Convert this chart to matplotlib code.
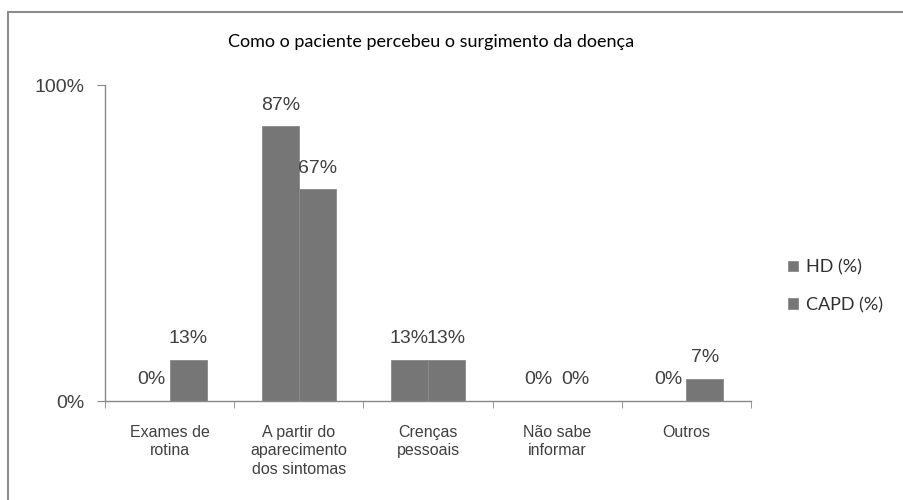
import matplotlib
matplotlib.use("Agg")
import matplotlib.pyplot as plt
import numpy as np
from matplotlib.patches import Rectangle

categories = ["Exames de\nrotina", "A partir do\naparecimento\ndos sintomas", "Crenças\npessoais",
              "Não sabe\ninformar", "Outros"]
series_names = ["HD (%)", "CAPD (%)"]
hd = [0, 87, 13, 0, 0]
capd = [13, 67, 13, 0, 7]
yticks = [0, 100]
ytick_labels = ["0%", "100%"]

fig = plt.figure(figsize=(9.04, 5.0), dpi=100)
W, H = 904, 500
ax = fig.add_axes([105 / W, 1 - 401 / H, (751 - 105) / W, (401 - 85) / H])

x = np.arange(len(categories))
bw = 0.286
color = "#767676"
b1 = ax.bar(x - bw / 2, hd, bw, color=color, edgecolor="#8a8a8a", linewidth=0.6, label=series_names[0])
b2 = ax.bar(x + bw / 2, capd, bw, color=color, edgecolor="#8a8a8a", linewidth=0.6, label=series_names[1])

for xs, vals in ((x - bw / 2, hd), (x + bw / 2, capd)):
    for xi, v in zip(xs, vals):
        ax.annotate(f"{v}%", (xi, v), xytext=(0, 9), textcoords="offset points",
                    ha="center", va="bottom", fontsize=14, color="#404040",
                    family="Liberation Sans")

ax.set_xlim(-0.5, len(categories) - 0.5)
ax.set_ylim(0, 100)
ax.set_yticks(yticks)
ax.set_yticklabels(ytick_labels, fontsize=14, color="#404040", family="Liberation Sans")
ax.set_xticks(np.arange(len(categories) + 1) - 0.5, minor=True)
ax.set_xticks(x)
ax.set_xticklabels(categories, fontsize=11.5, color="#404040", family="Liberation Sans",
                   linespacing=1.3)
ax.tick_params(axis="x", which="major", length=0, pad=17)
ax.tick_params(axis="x", which="minor", length=5, color="#888888", direction="out")
ax.tick_params(axis="y", length=6, color="#888888", direction="out", pad=9)
for s in ("top", "right"):
    ax.spines[s].set_visible(False)
for s in ("left", "bottom"):
    ax.spines[s].set_color("#888888")
    ax.spines[s].set_linewidth(1.0)

fig.text(431 / W, 1 - 42 / H, "Como o paciente percebeu o surgimento da doença",
         ha="center", va="center", fontsize=13, color="#000000", family="Lato")

leg = fig.legend(handles=[b1, b2], loc="upper left", bbox_to_anchor=(772 / W, 1 - 243 / H),
                 frameon=False, handlelength=0.55, handleheight=0.55,
                 labelspacing=1.2, handletextpad=0.45, prop={"family": "Lato", "size": 13})
for t in leg.get_texts():
    t.set_color("#303030")

fig.patches.append(Rectangle((8 / W, -0.1), 1.2, 1 - 12 / H + 0.1, transform=fig.transFigure,
                             fill=False, edgecolor="#8c8c8c", linewidth=1.5))

fig.savefig("out.png", dpi=100)
